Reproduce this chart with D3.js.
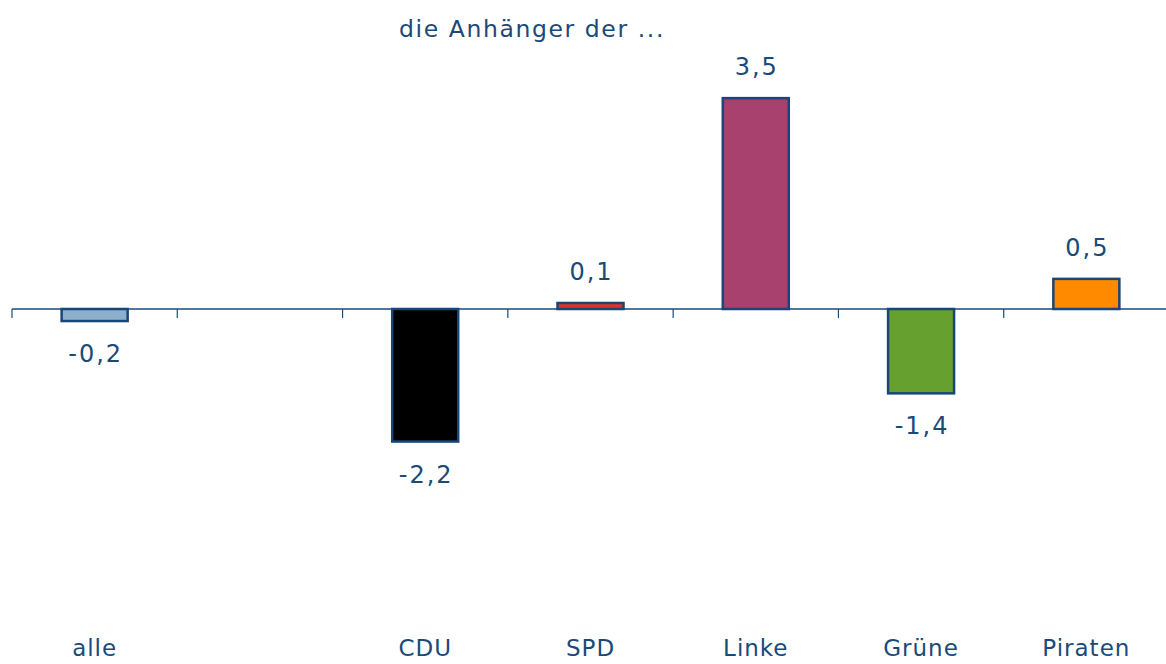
<!DOCTYPE html>
<html>
<head>
<meta charset="utf-8">
<script src="https://cdn.jsdelivr.net/npm/d3@7"></script>
<style>
	body { margin: 0; background: #fff; }
	text { font-family: "DejaVu Sans", Verdana, sans-serif; fill: #1a4a7a; }
</style>
</head>
<body>
<div id="chart"></div>
<script>
const categories = ["alle", "", "CDU", "SPD", "Linke", "Grüne", "Piraten"]
const values = [-0.2, null, -2.2, 0.1, 3.5, -1.4, 0.5]
const colors = ["#8eafcb", null, "#000000", "#e0302e", "#a8416e", "#66a02f", "#ff8a00"]
const title = "die Anhänger der ..."

const params = { width: 1166, height: 664, left: 12, right: 1169, zeroTop: 68, zeroBottom: 550 }

const fmt = v => String(v).replace(".", ",")

const svg = d3.select("#chart")
	.append("svg")
	.attr("width", params.width)
	.attr("height", params.height)

// one band per category, the second one is left empty
const xScale = d3.scaleBand()
	.domain(d3.range(categories.length))
	.range([params.left, params.right])
	.paddingInner(0)
	.paddingOuter(0)

const yScale = d3.scaleLinear()
	.domain([-4, 4])
	.range([params.zeroBottom, params.zeroTop])

const data = categories.map((c, i) => ({ cat: c, i: i, value: values[i], color: colors[i] }))
	.filter(d => d.value !== null)

const bandX = i => xScale(i) + xScale.bandwidth() / 2

// axis line at zero with ticks at band edges
const edges = d3.range(categories.length).map(i => xScale(i))
const axis = svg.append("g").attr("stroke", "#1a4a7a")
axis.append("line")
	.attr("x1", params.left).attr("x2", params.width)
	.attr("y1", yScale(0)).attr("y2", yScale(0))
	.attr("stroke-width", 1.5)
axis.selectAll("line.tick")
	.data(edges)
	.join("line")
	.attr("class", "tick")
	.attr("x1", d => d).attr("x2", d => d)
	.attr("y1", yScale(0)).attr("y2", yScale(0) + 9)
	.attr("stroke-width", 1.2)

// bars
const barW = 66
svg.selectAll("rect.bar")
	.data(data)
	.join("rect")
	.attr("class", "bar")
	.attr("x", d => bandX(d.i) - barW / 2)
	.attr("width", barW)
	.attr("y", d => yScale(Math.max(0, d.value)))
	.attr("height", d => Math.abs(yScale(d.value) - yScale(0)))
	.attr("fill", d => d.color)
	.attr("stroke", "#174677")
	.attr("stroke-width", 2.5)

// value labels
svg.selectAll("text.val")
	.data(data)
	.join("text")
	.attr("class", "val")
	.attr("x", d => bandX(d.i) + 1)
	.attr("y", d => d.value >= 0 ? yScale(d.value) - 23 : yScale(d.value) + 41)
	.attr("text-anchor", "middle")
	.attr("font-size", 24)
	.attr("letter-spacing", 2)
	.text(d => fmt(d.value))

// category labels
svg.selectAll("text.cat")
	.data(categories.map((c, i) => ({ c, i })).filter(d => d.c !== ""))
	.join("text")
	.attr("class", "cat")
	.attr("x", d => bandX(d.i))
	.attr("y", 656)
	.attr("text-anchor", "middle")
	.attr("font-size", 23)
	.attr("letter-spacing", 1)
	.text(d => d.c)

svg.append("text")
	.attr("x", 399)
	.attr("y", 37)
	.attr("font-size", 23.5)
	.attr("letter-spacing", 1.6)
	.text(title)
</script>
</body>
</html>
